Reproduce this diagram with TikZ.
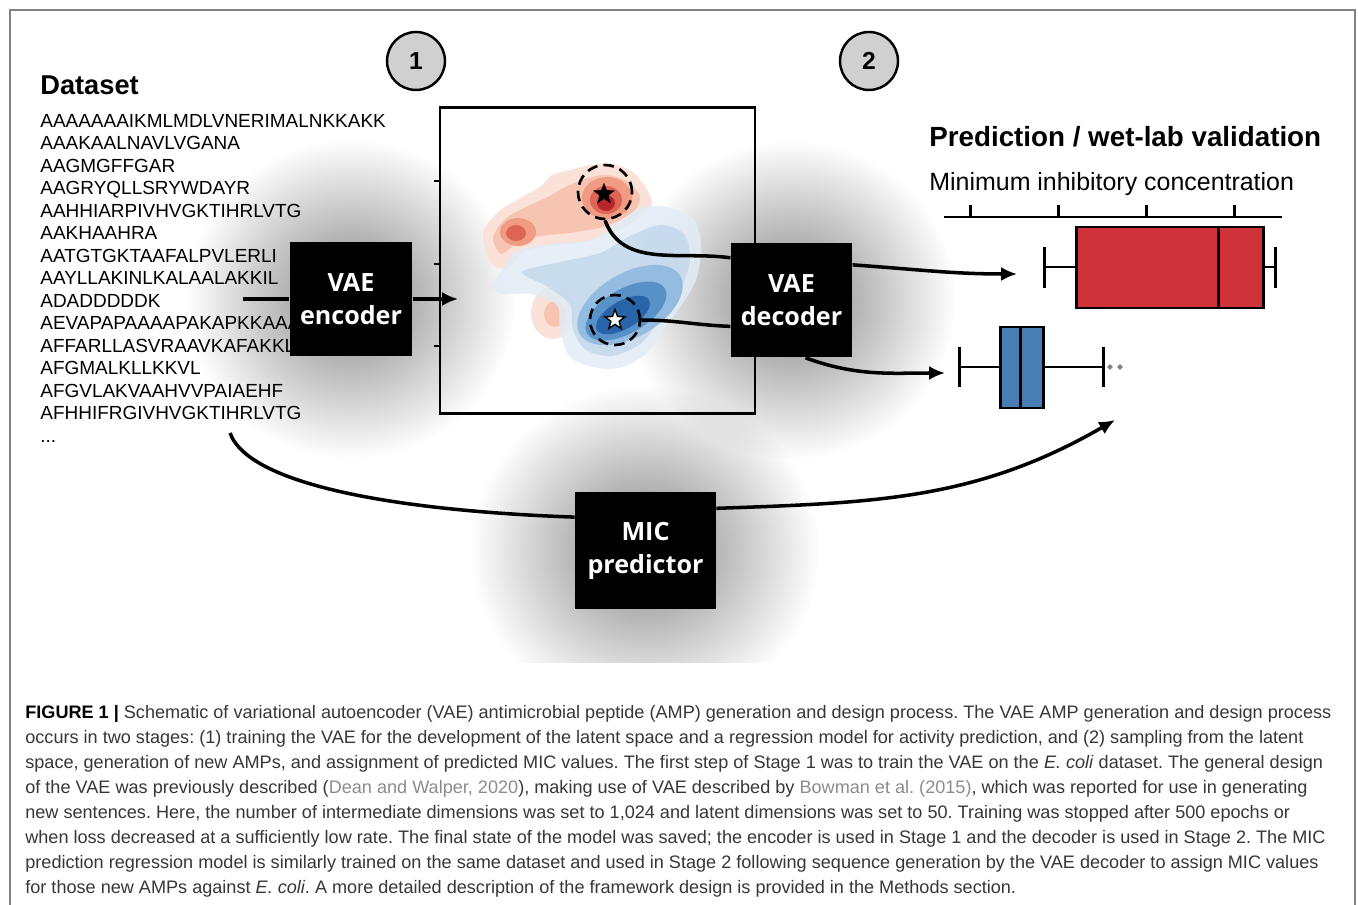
\documentclass[tikz,border=0pt]{standalone}
\usepackage{fontspec}
\setmainfont{Liberation Sans}
\newfontfamily\boxfont{Open Sans}
\newfontfamily\capfont{Liberation Sans}
\usetikzlibrary{positioning, arrows.meta, shapes.geometric, fadings}

\definecolor{framegray}{RGB}{130,130,130}
\definecolor{stagegray}{RGB}{208,208,208}
\definecolor{boxred}{RGB}{207,50,56}
\definecolor{boxblue}{RGB}{72,126,180}
\definecolor{capgray}{RGB}{55,55,55}
\definecolor{citegray}{RGB}{140,140,140}
\definecolor{redA}{RGB}{251,226,216}
\definecolor{redB}{RGB}{247,196,178}
\definecolor{redC}{RGB}{240,155,132}
\definecolor{redD}{RGB}{222,100,86}
\definecolor{redE}{RGB}{180,40,44}
\definecolor{blueA}{RGB}{226,236,246}
\definecolor{blueB}{RGB}{196,217,237}
\definecolor{blueC}{RGB}{148,188,224}
\definecolor{blueD}{RGB}{88,145,200}
\definecolor{blueE}{RGB}{40,100,168}

\tikzfading[name=glowfade, inner color=transparent!20, outer color=transparent!100]

\tikzset{
  vae/.style={fill=black, text=white, font=\boxfont\bfseries\fontsize{14.3}{18.8}\selectfont, align=center, inner sep=0pt},
  stage/.style={draw, circle, fill=stagegray, line width=1.4pt, minimum size=1.16cm, inner sep=0pt, font=\bfseries\fontsize{14}{16}\selectfont},
  hit/.style={draw, circle, line width=1.5pt, dash pattern=on 6pt off 3.5pt, minimum size=1.08cm, inner sep=0pt},
  link/.style={line width=2pt, -{Latex[length=9pt, width=8pt]}},
  wire/.style={line width=2pt},
  plotline/.style={line width=1.7pt},
}

\begin{document}
\frenchspacing
\begin{tikzpicture}[x=0.02cm, y=-0.02cm]
\useasboundingbox (0,0) rectangle (1358,905);
\fill[white] (0,0) rectangle (1358,905);

% soft shadows behind the boxes
\begin{scope}
\clip (10,10) rectangle (1355,662);
\fill[black, opacity=0.6, path fading=glowfade] (351,299) ellipse (165 and 160);
\fill[black, opacity=0.6, path fading=glowfade] (791,300) ellipse (165 and 160);
\fill[black, opacity=0.6, path fading=glowfade] (645,550) ellipse (175 and 165);
\end{scope}

\draw[framegray, line width=1.2pt] (10,905) -- (10,10) -- (1355,10) -- (1355,905);

\node[stage] (one) at (416,61) {1};
\node[stage] (two) at (869,61) {2};

% dataset
\node[anchor=base west, inner sep=0, font=\bfseries\fontsize{15.5}{18}\selectfont] (data) at (40,95) {Dataset};
\node[anchor=north west, inner sep=0, align=left, font=\fontsize{10.8}{12.8}\selectfont] (seqs) at (40,114) {AAAAAAAIKMLMDLVNERIMALNKKAKK\\
AAAKAALNAVLVGANA\\
AAGMGFFGAR\\
AAGRYQLLSRYWDAYR\\
AAHHIARPIVHVGKTIHRLVTG\\
AAKHAAHRA\\
AATGTGKTAAFALPVLERLI\\
AAYLLAKINLKALAALAKKIL\\
ADADDDDDK\\
AEVAPAPAAAAPAKAPKKAAAKPKKAGPS\\
AFFARLLASVRAAVKAFAKKLLK\\
AFGMALKLLKKVL\\
AFGVLAKVAAHVVPAIAEHF\\
AFHHIFRGIVHVGKTIHRLVTG\\
...};

% latent space
\fill[redA] plot[smooth cycle] coordinates {(483,233) (497,213) (517,200) (540,187) (552,175) (570,170) (590,165) (613,164) (633,172) (646,188) (652,204) (640,217) (615,232) (580,243) (545,246) (522,253) (507,269) (490,262)};
\fill[redB] plot[smooth cycle] coordinates {(493,238) (505,219) (526,207) (548,197) (565,187) (585,179) (605,175) (627,181) (640,197) (633,212) (606,226) (570,233) (540,236) (516,244) (501,254)};
\fill[redA] (553,313) ellipse (22 and 26);
\fill[redB] (555,314) ellipse (11 and 13);
\fill[blueA, opacity=0.85] plot[smooth cycle] coordinates {(490,287) (497,277) (517,251) (550,244) (590,240) (617,223) (643,207) (670,208) (693,219) (701,243) (697,277) (683,303) (663,330) (647,353) (623,367) (597,368) (570,357) (560,330) (557,305) (530,294) (503,294)};
\fill[blueB, opacity=0.85] plot[smooth cycle] coordinates {(522,272) (560,262) (600,253) (630,236) (660,225) (684,234) (690,260) (680,290) (660,320) (640,344) (612,356) (586,350) (573,330) (570,305) (548,287)};
\fill[redC] (607,198) ellipse (25 and 21);
\fill[redC] (518,232) ellipse (18 and 14);
\fill[redD] (606,200) ellipse (16 and 14);
\fill[redD] (516,233) ellipse (10 and 8);
\fill[redE] (606,203) ellipse (9 and 8);
\fill[blueC, rotate around={30:(630,305)}] (630,305) ellipse (58 and 32);
\fill[blueD, rotate around={30:(626,311)}] (626,311) ellipse (45 and 22);
\fill[blueE, rotate around={30:(623,315)}] (623,315) ellipse (30 and 14);

\node[draw, line width=1.3pt, minimum width=6.3cm, minimum height=6.12cm] (latent) at (597.5,260.5) {};
\draw[line width=1.2pt] (434,181) -- (440,181);
\draw[line width=1.2pt] (434,264) -- (440,264);
\draw[line width=1.2pt] (434,346) -- (440,346);

\node[hit] (hitA) at (605,192) {};
\node[star, star points=5, star point ratio=2.4, fill=black, minimum size=0.46cm, inner sep=0] (starA) at (604,194) {};
\node[hit, minimum size=1.0cm] (hitB) at (615,320) {};
\node[star, star points=5, star point ratio=2.4, fill=white, draw=black, line width=0.8pt, minimum size=0.42cm, inner sep=0] (starB) at (615,320) {};

% boxes
\node[vae, minimum width=2.46cm, minimum height=2.3cm] (enc) at (351,299) {VAE\\encoder};
\node[vae, minimum width=2.43cm, minimum height=2.3cm] (dec) at (791.5,300) {VAE\\decoder};
\node[vae, minimum width=2.82cm, minimum height=2.34cm] (mic) at (645.5,550.5) {MIC\\predictor};

\coordinate (encin) at (243,299);
\coordinate (enctip) at (458,299);
\coordinate (redtip) at (1017,274);
\coordinate (bluetip) at (945,373);
\coordinate (micin) at (230,433);
\coordinate (mictip) at (1115,420);

\draw[wire] (encin) -- (enc.west);
\draw[link] (enc.east) -- (enctip);
\draw[wire] (hitA.south) to[out=-70, in=172] ([yshift=24pt]dec.west);
\draw[wire] (hitB.east) to[out=0, in=178] ([yshift=-15pt]dec.west);
\draw[link] ([yshift=20pt]dec.east) to[out=-4, in=180] (redtip);
\draw[link] ([xshift=8pt]dec.south) to[out=-20, in=180] (bluetip);
\draw[wire] (micin) .. controls +(-70:1.2cm) and +(178:3.1cm) .. ([yshift=19pt]mic.west);
\draw[link] ([yshift=24pt]mic.east) to[out=2, in=-150] (mictip);

% prediction
\node[anchor=base west, inner sep=0, font=\bfseries\fontsize{15.8}{18}\selectfont] (pred) at (929,147) {Prediction / wet-lab validation};
\node[anchor=base west, inner sep=0, font=\fontsize{14.2}{17}\selectfont] (mictitle) at (929,191) {Minimum inhibitory concentration};

\draw[plotline] (944,217) -- (1282,217);
\draw[plotline] (970,205) -- (970,217);
\draw[plotline] (1058,205) -- (1058,217);
\draw[plotline] (1146,205) -- (1146,217);
\draw[plotline] (1234,205) -- (1234,217);

\draw[plotline, fill=boxred] (1076,227) rectangle (1263,308);
\draw[plotline] (1218,227) -- (1218,308);
\draw[plotline] (1044,267) -- (1076,267);
\draw[plotline] (1044,247) -- (1044,288);
\draw[plotline] (1263,267) -- (1275,267);
\draw[plotline] (1275,247) -- (1275,288);

\draw[plotline, fill=boxblue] (1000,327) rectangle (1043,408);
\draw[plotline] (1020,327) -- (1020,408);
\draw[plotline] (959,367) -- (1000,367);
\draw[plotline] (959,347) -- (959,387);
\draw[plotline] (1043,367) -- (1103,367);
\draw[plotline] (1103,347) -- (1103,387);
\node[diamond, fill=gray, inner sep=0, minimum size=0.12cm] (outA) at (1110,367) {};
\node[diamond, fill=gray, inner sep=0, minimum size=0.12cm] (outB) at (1120,367) {};

% caption
\node[anchor=north west, inner sep=0, align=left, text=capgray, font=\capfont\fontsize{10.3}{14.25}\selectfont] (cap) at (25,705) {{\color{black}\bfseries FIGURE 1 \textbar} Schematic of variational autoencoder (VAE) antimicrobial peptide (AMP) generation and design process. The VAE AMP generation and design process\\
occurs in two stages: (1) training the VAE for the development of the latent space and a regression model for activity prediction, and (2) sampling from the latent\\
space, generation of new AMPs, and assignment of predicted MIC values. The first step of Stage 1 was to train the VAE on the \textit{E. coli} dataset. The general design\\
of the VAE was previously described ({\color{citegray}Dean and Walper, 2020}), making use of VAE described by {\color{citegray}Bowman et al. (2015)}, which was reported for use in generating\\
new sentences. Here, the number of intermediate dimensions was set to 1,024 and latent dimensions was set to 50. Training was stopped after 500 epochs or\\
when loss decreased at a sufficiently low rate. The final state of the model was saved; the encoder is used in Stage 1 and the decoder is used in Stage 2. The MIC\\
prediction regression model is similarly trained on the same dataset and used in Stage 2 following sequence generation by the VAE decoder to assign MIC values\\
for those new AMPs against \textit{E. coli}. A more detailed description of the framework design is provided in the Methods section.};
\end{tikzpicture}
\end{document}
